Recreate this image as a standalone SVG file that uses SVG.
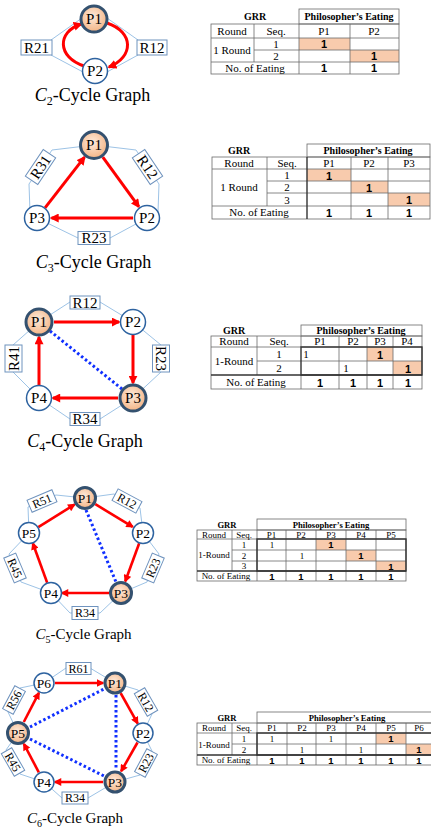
<svg xmlns="http://www.w3.org/2000/svg" width="431" height="829" viewBox="0 0 431 829">
<defs>
<radialGradient id="og" cx="0.45" cy="0.4" r="0.65">
<stop offset="0" stop-color="#fdeadb"/><stop offset="1" stop-color="#f3b07e"/>
</radialGradient>
<marker id="ah" viewBox="0 0 10 10" refX="8" refY="5" markerWidth="3.2" markerHeight="3" orient="auto" markerUnits="strokeWidth">
<path d="M0,0 L10,5 L0,10 z" fill="#ff0000"/>
</marker>
<style>
text{font-family:"Liberation Serif","Times New Roman",serif;fill:#000}
.nt{font-size:15px;text-anchor:middle}
.nt2{font-size:13.5px;text-anchor:middle}
.bl{font-size:15px;text-anchor:middle}
.bl2{font-size:12px;text-anchor:middle}
.ti{font-size:18px;text-anchor:middle}
.ti2{font-size:15px;text-anchor:middle}
.act{fill:url(#og);stroke:#34516f;stroke-width:3}
.ina{fill:#fff;stroke:#2e63a0;stroke-width:1.5}
.box{fill:#fff;stroke:#6f93be;stroke-width:1}
.ol{fill:none;stroke:#9dc3e6;stroke-width:1}
.ra{stroke:#ff0000;stroke-width:3;fill:none;marker-end:url(#ah)}
.ra2{stroke:#ff0000;stroke-width:2.6;fill:none;marker-end:url(#ah)}
.bd{stroke:#1030ff;stroke-width:3;stroke-dasharray:2.5 2.5;fill:none}
.tl{stroke:#6a6a6a;stroke-width:0.8;fill:none}
.tk{stroke:#333;stroke-width:1.4;fill:none}
.hi{fill:#f8cbad}
.t1{font-size:11px;text-anchor:middle}
.t1b{font-size:10px;text-anchor:middle;font-weight:bold}
.t2{font-size:9px;text-anchor:middle}
.t2b{font-size:8.6px;text-anchor:middle;font-weight:bold}
.b1{font-size:11px;text-anchor:middle;font-weight:bold;font-family:"Liberation Sans",Arial,sans-serif}
.b2{font-size:9.5px;text-anchor:middle;font-weight:bold;font-family:"Liberation Sans",Arial,sans-serif}
</style>
</defs>

<!-- ========== C2 ========== -->
<g id="c2-connectors">
<line class="ol" x1="51" y1="40" x2="82" y2="18"/>
<line class="ol" x1="51" y1="55" x2="83" y2="72"/>
<line class="ol" x1="138" y1="40" x2="107" y2="18"/>
<line class="ol" x1="138" y1="55" x2="107" y2="72"/>
<path class="ra" d="M84,66 C57,57 57,32 81,24"/>
<path class="ra" d="M107,23 C134,32 134,57 109,67"/>
</g>
<g id="c2-R21"><rect class="box" x="21" y="40" width="31" height="15"/><text class="bl" x="36.5" y="52.5">R21</text></g>
<g id="c2-R12"><rect class="box" x="137" y="40" width="30" height="15"/><text class="bl" x="152" y="52.5">R12</text></g>
<g id="c2-P1"><circle class="act" cx="94" cy="19" r="13"/><text class="nt" x="94" y="24">P1</text></g>
<g id="c2-P2"><circle class="ina" cx="95" cy="71" r="12.5"/><text class="nt" x="95" y="76">P2</text></g>
<text class="ti" x="92.5" y="101"><tspan font-style="italic">C</tspan><tspan font-size="12" dy="4">2</tspan><tspan dy="-4">-Cycle Graph</tspan></text>

<!-- Table C2 -->
<g id="table-c2">
<rect class="hi" x="299" y="38" width="51" height="12"/>
<rect class="hi" x="350" y="50" width="49" height="12"/>
<rect class="tl" x="299" y="9" width="100" height="15"/>
<rect class="tl" x="211" y="24" width="188" height="50"/>
<line class="tl" x1="211" y1="38" x2="399" y2="38"/>
<line class="tl" x1="254" y1="50" x2="399" y2="50"/>
<line class="tl" x1="211" y1="62" x2="399" y2="62"/>
<line class="tl" x1="254" y1="24" x2="254" y2="62"/>
<line class="tl" x1="299" y1="24" x2="299" y2="74"/>
<line class="tl" x1="350" y1="24" x2="350" y2="74"/>
<text class="t1b" x="255" y="20">GRR</text>
<text class="t1b" x="349" y="20">Philosopher’s Eating</text>
<text class="t1" x="232" y="35">Round</text>
<text class="t1" x="276" y="35">Seq.</text>
<text class="t1" x="324" y="35">P1</text>
<text class="t1" x="374" y="35">P2</text>
<text class="t1" x="232" y="54">1 Round</text>
<text class="t1" x="276" y="47.5">1</text>
<text class="t1" x="276" y="59.5">2</text>
<text class="b1" x="324" y="48">1</text>
<text class="b1" x="374" y="60">1</text>
<text class="t1" x="255" y="71.5">No. of Eating</text>
<text class="b1" x="324" y="72">1</text>
<text class="b1" x="374" y="72">1</text>
</g>

<!-- ========== C3 ========== -->
<g id="c3-connectors">
<polygon class="ol" points="94,145 52,150 29,184 30,212 37,218 78,238 110,238 147,218 158,212 159,184 136,150"/>
<line class="ra" x1="102.8" y1="157.1" x2="138.8" y2="206.7"/>
<line class="ra" x1="133" y1="218" x2="51.5" y2="218"/>
<line class="ra" x1="45" y1="207.8" x2="84.5" y2="157.2"/>
</g>
<g id="c3-R31" transform="translate(40.5,167) rotate(-56)"><rect class="box" x="-16" y="-7.5" width="32" height="15"/><text class="bl" x="0" y="5">R31</text></g>
<g id="c3-R12" transform="translate(147.5,167) rotate(56)"><rect class="box" x="-16" y="-7.5" width="32" height="15"/><text class="bl" x="0" y="5">R12</text></g>
<g id="c3-R23"><rect class="box" x="78" y="231.5" width="32" height="13"/><text class="bl" x="94" y="243">R23</text></g>
<g id="c3-P1"><circle class="act" cx="94" cy="145" r="13.5"/><text class="nt" x="94" y="150">P1</text></g>
<g id="c3-P2"><circle class="ina" cx="147" cy="218" r="12.5"/><text class="nt" x="147" y="223">P2</text></g>
<g id="c3-P3"><circle class="ina" cx="37" cy="218" r="12.5"/><text class="nt" x="37" y="223">P3</text></g>
<text class="ti" x="93.5" y="268"><tspan font-style="italic">C</tspan><tspan font-size="12" dy="4">3</tspan><tspan dy="-4">-Cycle Graph</tspan></text>

<!-- Table C3 -->
<g id="table-c3">
<rect class="hi" x="307" y="169" width="44" height="12"/>
<rect class="hi" x="351" y="181" width="37" height="12"/>
<rect class="hi" x="388" y="193" width="42" height="13"/>
<rect class="tl" x="307" y="144" width="123" height="13"/>
<rect class="tl" x="212" y="157" width="218" height="62"/>
<line class="tl" x1="212" y1="169" x2="430" y2="169"/>
<line class="tl" x1="267" y1="181" x2="430" y2="181"/>
<line class="tl" x1="267" y1="193" x2="430" y2="193"/>
<line class="tl" x1="212" y1="206" x2="430" y2="206"/>
<line class="tl" x1="267" y1="157" x2="267" y2="206"/>
<line class="tk" x1="307" y1="157" x2="307" y2="219"/>
<line class="tl" x1="351" y1="157" x2="351" y2="219"/>
<line class="tl" x1="388" y1="157" x2="388" y2="219"/>
<text class="t1b" x="239" y="154">GRR</text>
<text class="t1b" x="368" y="154">Philosopher’s Eating</text>
<text class="t1" x="239" y="166.5">Round</text>
<text class="t1" x="287" y="166.5">Seq.</text>
<text class="t1" x="329" y="166.5">P1</text>
<text class="t1" x="369" y="166.5">P2</text>
<text class="t1" x="409" y="166.5">P3</text>
<text class="t1" x="239" y="191">1 Round</text>
<text class="t1" x="287" y="179">1</text>
<text class="t1" x="287" y="191">2</text>
<text class="t1" x="287" y="203.5">3</text>
<text class="b1" x="329" y="179.5">1</text>
<text class="b1" x="369" y="191.5">1</text>
<text class="b1" x="409" y="204">1</text>
<text class="t1" x="259" y="216">No. of Eating</text>
<text class="b1" x="329" y="216.5">1</text>
<text class="b1" x="369" y="216.5">1</text>
<text class="b1" x="409" y="216.5">1</text>
</g>

<!-- ========== C4 ========== -->
<g id="c4-connectors">
<polygon class="ol" points="39,322 70,302 100,302 133,322 161,345 161,372 133,398 100,419 70,419 39,398 13,372 13,345"/>
<line class="bd" x1="50" y1="331" x2="122" y2="389"/>
<line class="ra" x1="54" y1="322" x2="119" y2="322"/>
<line class="ra" x1="133" y1="335" x2="133" y2="383"/>
<line class="ra" x1="118" y1="398" x2="53" y2="398"/>
<line class="ra" x1="39" y1="385" x2="39" y2="337"/>
</g>
<g id="c4-R12"><rect class="box" x="70" y="296" width="30" height="13"/><text class="bl" x="85" y="307.5">R12</text></g>
<g id="c4-R23" transform="translate(161,358.5) rotate(90)"><rect class="box" x="-13.5" y="-8.5" width="27" height="17"/><text class="bl" x="0" y="5">R23</text></g>
<g id="c4-R34"><rect class="box" x="70" y="412.5" width="30" height="13"/><text class="bl" x="85" y="424">R34</text></g>
<g id="c4-R41" transform="translate(13.5,358.5) rotate(-90)"><rect class="box" x="-13.5" y="-8.5" width="27" height="17"/><text class="bl" x="0" y="5">R41</text></g>
<g id="c4-P1"><circle class="act" cx="39" cy="322" r="13"/><text class="nt" x="39" y="327">P1</text></g>
<g id="c4-P2"><circle class="ina" cx="133" cy="322" r="12.5"/><text class="nt" x="133" y="327">P2</text></g>
<g id="c4-P3"><circle class="act" cx="133" cy="398" r="13"/><text class="nt" x="133" y="403">P3</text></g>
<g id="c4-P4"><circle class="ina" cx="39" cy="398" r="12.5"/><text class="nt" x="39" y="403">P4</text></g>
<text class="ti" x="85" y="447"><tspan font-style="italic">C</tspan><tspan font-size="12" dy="4">4</tspan><tspan dy="-4">-Cycle Graph</tspan></text>

<!-- Table C4 -->
<g id="table-c4">
<rect class="hi" x="367" y="347" width="26" height="14"/>
<rect class="hi" x="393" y="361" width="29" height="14"/>
<rect class="tl" x="301" y="325" width="121" height="11"/>
<rect class="tl" x="211" y="336" width="211" height="53"/>
<line class="tl" x1="211" y1="347" x2="422" y2="347"/>
<line class="tl" x1="257" y1="361" x2="422" y2="361"/>
<line class="tl" x1="257" y1="336" x2="257" y2="375"/>
<line class="tl" x1="339" y1="336" x2="339" y2="389"/>
<line class="tl" x1="367" y1="336" x2="367" y2="389"/>
<line class="tl" x1="393" y1="336" x2="393" y2="389"/>
<line class="tl" x1="301" y1="336" x2="301" y2="347"/>
<line class="tl" x1="301" y1="375" x2="301" y2="389"/>
<rect class="tk" x="301" y="347" width="121" height="28"/>
<line class="tk" x1="211" y1="375" x2="422" y2="375"/>
<text class="t1b" x="234" y="334">GRR</text>
<text class="t1b" x="361" y="334">Philosopher’s Eating</text>
<text class="t1" x="234" y="345">Round</text>
<text class="t1" x="279" y="345">Seq.</text>
<text class="t1" x="320" y="345">P1</text>
<text class="t1" x="353" y="345">P2</text>
<text class="t1" x="380" y="345">P3</text>
<text class="t1" x="407" y="345">P4</text>
<text class="t1" x="234" y="365">1-Round</text>
<text class="t1" x="279" y="358">1</text>
<text class="t1" x="279" y="372">2</text>
<text class="t1" x="306" y="358">1</text>
<text class="t1" x="346" y="372">1</text>
<text class="b1" x="380" y="358.5">1</text>
<text class="b1" x="408" y="372.5">1</text>
<text class="t1" x="256" y="386">No. of Eating</text>
<text class="b1" x="320" y="386.5">1</text>
<text class="b1" x="353" y="386.5">1</text>
<text class="b1" x="380" y="386.5">1</text>
<text class="b1" x="408" y="386.5">1</text>
</g>

<!-- ========== C5 ========== -->
<g id="c5-connectors">
<polygon class="ol" points="85,498 114,494 140,508 143,533 159,554 147,582 121,593 100,613 70,613 51,593 21,582 9,554 29,533 28,507 56,495"/>
<line class="bd" x1="86" y1="510" x2="116" y2="582"/>
<line class="ra2" x1="38.3" y1="527.2" x2="74.4" y2="504.6"/>
<line class="ra2" x1="95.3" y1="504.2" x2="132.7" y2="526.8"/>
<line class="ra2" x1="139.2" y1="543.3" x2="125.3" y2="581.3"/>
<line class="ra2" x1="109" y1="593" x2="62" y2="593"/>
<line class="ra2" x1="47.2" y1="582.7" x2="32.8" y2="543.3"/>
</g>
<g id="c5-R51" transform="translate(42,501) rotate(-23)"><rect class="box" x="-13.5" y="-6.5" width="27" height="13"/><text class="bl2" x="0" y="4.2">R51</text></g>
<g id="c5-R12" transform="translate(127,501) rotate(28)"><rect class="box" x="-13.5" y="-6.5" width="27" height="13"/><text class="bl2" x="0" y="4.2">R12</text></g>
<g id="c5-R23" transform="translate(153,568) rotate(-67)"><rect class="box" x="-13.5" y="-6.5" width="27" height="13"/><text class="bl2" x="0" y="4.2">R23</text></g>
<g id="c5-R34"><rect class="box" x="72" y="606.5" width="26" height="13"/><text class="bl2" x="85" y="617.2">R34</text></g>
<g id="c5-R45" transform="translate(15,568) rotate(67)"><rect class="box" x="-13.5" y="-6.5" width="27" height="13"/><text class="bl2" x="0" y="4.2">R45</text></g>
<g id="c5-P1"><circle class="act" cx="85" cy="498" r="10.5"/><text class="nt2" x="85" y="502.5">P1</text></g>
<g id="c5-P2"><circle class="ina" cx="143" cy="533" r="10.5"/><text class="nt2" x="143" y="537.5">P2</text></g>
<g id="c5-P3"><circle class="act" cx="121" cy="593" r="10.5"/><text class="nt2" x="121" y="597.5">P3</text></g>
<g id="c5-P4"><circle class="ina" cx="51" cy="593" r="10.5"/><text class="nt2" x="51" y="597.5">P4</text></g>
<g id="c5-P5"><circle class="ina" cx="29" cy="533" r="10.5"/><text class="nt2" x="29" y="537.5">P5</text></g>
<text class="ti2" x="83.5" y="639"><tspan font-style="italic">C</tspan><tspan font-size="10" dy="3.5">5</tspan><tspan dy="-3.5">-Cycle Graph</tspan></text>

<!-- Table C5 -->
<g id="table-c5">
<rect class="hi" x="316" y="539" width="30" height="11"/>
<rect class="hi" x="346" y="550" width="30" height="11"/>
<rect class="hi" x="376" y="561" width="30" height="10"/>
<rect class="tl" x="257" y="519" width="149" height="11"/>
<rect class="tl" x="197" y="530" width="209" height="51"/>
<line class="tl" x1="197" y1="539" x2="406" y2="539"/>
<line class="tl" x1="232" y1="550" x2="406" y2="550"/>
<line class="tl" x1="232" y1="561" x2="406" y2="561"/>
<line class="tl" x1="232" y1="530" x2="232" y2="571"/>
<line class="tl" x1="257" y1="530" x2="257" y2="581"/>
<line class="tl" x1="286" y1="530" x2="286" y2="581"/>
<line class="tl" x1="316" y1="530" x2="316" y2="581"/>
<line class="tl" x1="346" y1="530" x2="346" y2="581"/>
<line class="tl" x1="376" y1="530" x2="376" y2="581"/>
<rect class="tk" x="257" y="539" width="149" height="32"/>
<line class="tk" x1="197" y1="571" x2="406" y2="571"/>
<text class="t2b" x="227" y="527.5">GRR</text>
<text class="t2b" x="331" y="527.5">Philosopher’s Eating</text>
<text class="t2" x="214" y="537.5">Round</text>
<text class="t2" x="244" y="537.5">Seq.</text>
<text class="t2" x="271.5" y="537.5">P1</text>
<text class="t2" x="301" y="537.5">P2</text>
<text class="t2" x="331" y="537.5">P3</text>
<text class="t2" x="361" y="537.5">P4</text>
<text class="t2" x="391" y="537.5">P5</text>
<text class="t2" x="214" y="558">1-Round</text>
<text class="t2" x="244" y="547.5">1</text>
<text class="t2" x="244" y="558.5">2</text>
<text class="t2" x="244" y="569">3</text>
<text class="t2" x="272" y="547.5">1</text>
<text class="t2" x="302" y="558.5">1</text>
<text class="b2" x="331" y="548">1</text>
<text class="b2" x="361" y="559">1</text>
<text class="b2" x="391" y="569.5">1</text>
<text class="t2" x="226" y="579">No. of Eating</text>
<text class="b2" x="272" y="579.5">1</text>
<text class="b2" x="301" y="579.5">1</text>
<text class="b2" x="331" y="579.5">1</text>
<text class="b2" x="361" y="579.5">1</text>
<text class="b2" x="391" y="579.5">1</text>
</g>

<!-- ========== C6 ========== -->
<g id="c6-connectors">
<polygon class="ol" points="115,683 138,690 152,714 143,733 152,751 140,775 115,782 88,798 62,798 44,782 20,774 6,750 18,733 8,712 20,688 44,683 66,668 90,668"/>
<line class="bd" x1="30" y1="727" x2="104" y2="689"/>
<line class="bd" x1="30" y1="739" x2="104" y2="776"/>
<line class="bd" x1="116" y1="695" x2="116" y2="770"/>
<line class="ra2" x1="55" y1="683" x2="103" y2="683"/>
<line class="ra2" x1="120.6" y1="693" x2="137.6" y2="723.4"/>
<line class="ra2" x1="137.5" y1="742.5" x2="121.2" y2="771.2"/>
<line class="ra2" x1="103" y1="782" x2="55" y2="782"/>
<line class="ra2" x1="38.8" y1="772.3" x2="23.9" y2="744"/>
<line class="ra2" x1="23.8" y1="722" x2="38.9" y2="692.8"/>
</g>
<g id="c6-R61"><rect class="box" x="66" y="662.5" width="25" height="12"/><text class="bl2" x="78.5" y="672.7">R61</text></g>
<g id="c6-R12" transform="translate(146,702) rotate(60)"><rect class="box" x="-13" y="-6" width="26" height="12"/><text class="bl2" x="0" y="4.2">R12</text></g>
<g id="c6-R23" transform="translate(146,763) rotate(-62)"><rect class="box" x="-13" y="-6" width="26" height="12"/><text class="bl2" x="0" y="4.2">R23</text></g>
<g id="c6-R34"><rect class="box" x="62" y="792" width="26" height="12"/><text class="bl2" x="75" y="802.2">R34</text></g>
<g id="c6-R45" transform="translate(13,762) rotate(60)"><rect class="box" x="-13" y="-6" width="26" height="12"/><text class="bl2" x="0" y="4.2">R45</text></g>
<g id="c6-R56" transform="translate(14,700) rotate(-62)"><rect class="box" x="-13" y="-6" width="26" height="12"/><text class="bl2" x="0" y="4.2">R56</text></g>
<g id="c6-P1"><circle class="act" cx="115" cy="683" r="10"/><text class="nt2" x="115" y="687.5">P1</text></g>
<g id="c6-P2"><circle class="ina" cx="143" cy="733" r="10"/><text class="nt2" x="143" y="737.5">P2</text></g>
<g id="c6-P3"><circle class="act" cx="115" cy="782" r="10"/><text class="nt2" x="115" y="786.5">P3</text></g>
<g id="c6-P4"><circle class="ina" cx="44" cy="782" r="10"/><text class="nt2" x="44" y="786.5">P4</text></g>
<g id="c6-P5"><circle class="act" cx="18" cy="733" r="10.5"/><text class="nt2" x="18" y="737.5">P5</text></g>
<g id="c6-P6"><circle class="ina" cx="44" cy="683" r="10"/><text class="nt2" x="44" y="687.5">P6</text></g>
<text class="ti2" x="75" y="823"><tspan font-style="italic">C</tspan><tspan font-size="10" dy="3.5">6</tspan><tspan dy="-3.5">-Cycle Graph</tspan></text>

<!-- Table C6 -->
<g id="table-c6">
<rect class="hi" x="376" y="733" width="30" height="11"/>
<rect class="hi" x="406" y="744" width="25" height="11"/>
<rect class="tl" x="257" y="712" width="175" height="11"/>
<rect class="tl" x="197" y="723" width="235" height="42"/>
<line class="tl" x1="197" y1="733" x2="431" y2="733"/>
<line class="tl" x1="232" y1="744" x2="431" y2="744"/>
<line class="tl" x1="232" y1="723" x2="232" y2="755"/>
<line class="tl" x1="257" y1="723" x2="257" y2="765"/>
<line class="tl" x1="287" y1="723" x2="287" y2="765"/>
<line class="tl" x1="316" y1="723" x2="316" y2="765"/>
<line class="tl" x1="346" y1="723" x2="346" y2="765"/>
<line class="tl" x1="376" y1="723" x2="376" y2="765"/>
<line class="tl" x1="406" y1="723" x2="406" y2="765"/>
<rect class="tk" x="257" y="733" width="175" height="22"/>
<line class="tk" x1="197" y1="755" x2="431" y2="755"/>
<text class="t2b" x="227" y="720.5">GRR</text>
<text class="t2b" x="347" y="720.5">Philosopher’s Eating</text>
<text class="t2" x="214" y="731">Round</text>
<text class="t2" x="244" y="731">Seq.</text>
<text class="t2" x="272" y="731">P1</text>
<text class="t2" x="302" y="731">P2</text>
<text class="t2" x="331" y="731">P3</text>
<text class="t2" x="361" y="731">P4</text>
<text class="t2" x="391" y="731">P5</text>
<text class="t2" x="419" y="731">P6</text>
<text class="t2" x="214" y="747.5">1-Round</text>
<text class="t2" x="244" y="741.5">1</text>
<text class="t2" x="244" y="752.5">2</text>
<text class="t2" x="272" y="741.5">1</text>
<text class="t2" x="331" y="741.5">1</text>
<text class="t2" x="302" y="752.5">1</text>
<text class="t2" x="361" y="752.5">1</text>
<text class="b2" x="391" y="742">1</text>
<text class="b2" x="419" y="753">1</text>
<text class="t2" x="226" y="763">No. of Eating</text>
<text class="b2" x="272" y="763.5">1</text>
<text class="b2" x="302" y="763.5">1</text>
<text class="b2" x="331" y="763.5">1</text>
<text class="b2" x="361" y="763.5">1</text>
<text class="b2" x="391" y="763.5">1</text>
<text class="b2" x="419" y="763.5">1</text>
</g>
</svg>
